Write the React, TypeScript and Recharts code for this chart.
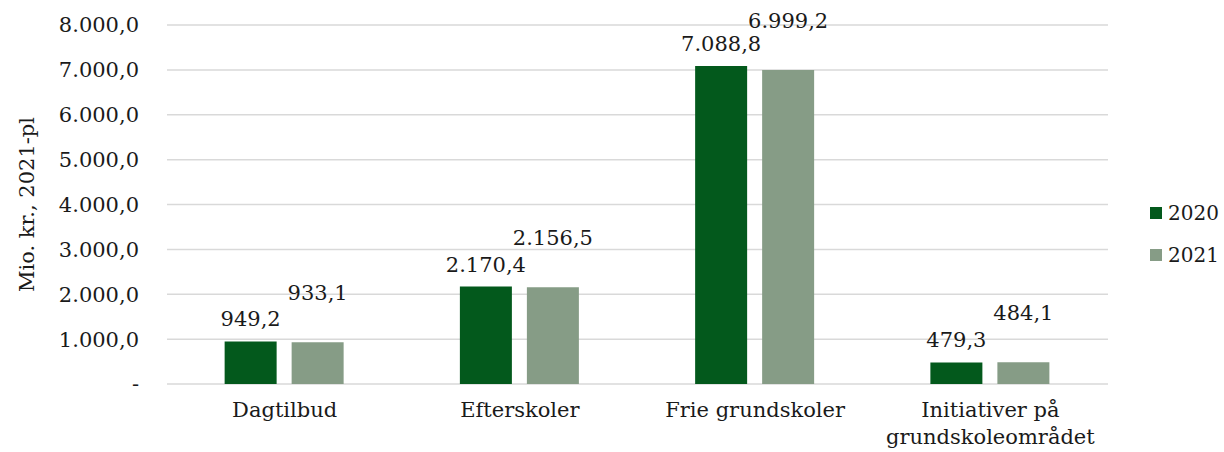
import { BarChart, Bar, XAxis, YAxis, CartesianGrid, LabelList } from "recharts";

const categories = ["Dagtilbud", "Efterskoler", "Frie grundskoler", "Initiativer på grundskoleområdet"];
const values2020 = [949.2, 2170.4, 7088.8, 479.3];
const values2021 = [933.1, 2156.5, 6999.2, 484.1];
const yTicks = [0, 1000, 2000, 3000, 4000, 5000, 6000, 7000, 8000];
const seriesNames = ["2020", "2021"];
const seriesColors = ["#03591c", "#869c86"];

const FONT = "'DejaVu Serif', 'Liberation Serif', serif";
const TEXT = "#1a1a1a";
const FS = 21;

// Danish number format: 7088.8 -> "7.088,8", 0 -> "-"
function fmt(v: number): string {
  if (v === 0) return "-";
  const [int, dec] = v.toFixed(1).split(".");
  return int.replace(/\B(?=(\d{3})+(?!\d))/g, ".") + "," + dec;
}

// simple word wrap by character count
function wrap(s: string, maxChars = 18): string[] {
  const lines: string[] = [];
  let cur = "";
  for (const w of s.split(" ")) {
    const next = cur ? cur + " " + w : w;
    if (next.length > maxChars && cur) {
      lines.push(cur);
      cur = w;
    } else {
      cur = next;
    }
  }
  if (cur) lines.push(cur);
  return lines;
}

const data = categories.map((name, i) => ({
  name,
  v2020: values2020[i],
  v2021: values2021[i],
}));

function CategoryTick(props: any) {
  const { x, y, payload } = props;
  const lines = wrap(String(payload.value));
  return (
    <text x={x} y={y} textAnchor="middle" fontFamily={FONT} fontSize={FS} fill={TEXT}>
      {lines.map((l, i) => (
        <tspan key={i} x={x} dy={i === 0 ? "0.71em" : 27}>
          {l}
        </tspan>
      ))}
    </text>
  );
}

export default function App() {
  return (
    <div style={{ position: "absolute", left: 0, top: 0, width: 1224, height: 452, background: "#fff" }}>
      <BarChart
        width={1224}
        height={452}
        data={data}
        margin={{ top: 25, right: 116, bottom: 0, left: 0 }}
        barCategoryGap="24.5%"
        barGap={15}
      >
        <CartesianGrid vertical={false} stroke="#d9d9d9" strokeWidth={1.5} />
        <XAxis
          dataKey="name"
          height={68}
          axisLine={false}
          tickLine={false}
          tickSize={0}
          tickMargin={18}
          interval={0}
          tick={<CategoryTick />}
        />
        <YAxis
          width={167}
          domain={[0, 8000]}
          ticks={yTicks}
          tickFormatter={fmt}
          axisLine={false}
          tickLine={false}
          tickSize={0}
          tickMargin={28}
          tick={{ fontFamily: FONT, fontSize: FS, fill: TEXT }}
          label={{
            value: "Mio. kr., 2021-pl",
            angle: -90,
            position: "insideLeft",
            offset: 27,
            style: { textAnchor: "middle", fontFamily: FONT, fontSize: FS, fill: TEXT },
          }}
        />
        <Bar dataKey="v2020" name={seriesNames[0]} fill={seriesColors[0]} isAnimationActive={false}>
          <LabelList
            dataKey="v2020"
            position="top"
            offset={15}
            formatter={(v: any) => fmt(Number(v))}
            style={{ fontFamily: FONT, fontSize: FS, fill: TEXT }}
          />
        </Bar>
        <Bar dataKey="v2021" name={seriesNames[1]} fill={seriesColors[1]} isAnimationActive={false}>
          <LabelList
            dataKey="v2021"
            position="top"
            offset={42}
            formatter={(v: any) => fmt(Number(v))}
            style={{ fontFamily: FONT, fontSize: FS, fill: TEXT }}
          />
        </Bar>
      </BarChart>
      <div style={{ position: "absolute", left: 1150, top: 200, fontFamily: FONT, fontSize: 20, color: TEXT }}>
        {seriesNames.map((n, i) => (
          <div key={n} style={{ display: "flex", alignItems: "center", height: 26, marginBottom: 16 }}>
            <span style={{ width: 12, height: 12, background: seriesColors[i], marginRight: 6 }} />
            <span>{n}</span>
          </div>
        ))}
      </div>
    </div>
  );
}
